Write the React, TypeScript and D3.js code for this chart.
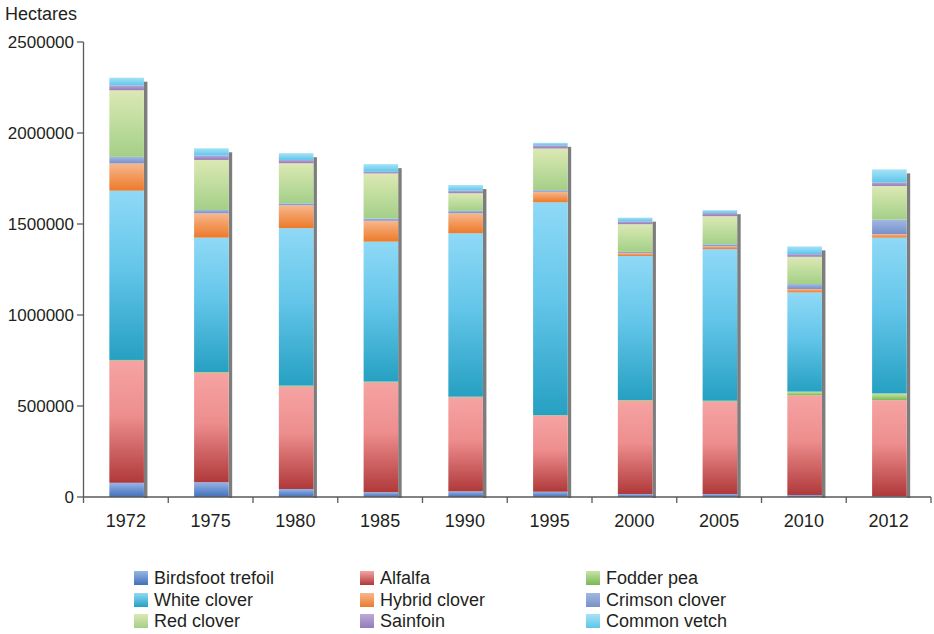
import React from 'react';
import * as d3 from 'd3';

const years = ['1972', '1975', '1980', '1985', '1990', '1995', '2000', '2005', '2010', '2012'];
const birdsfootTrefoil = [78000, 81000, 44000, 26000, 31000, 29000, 16000, 16000, 11000, 5000];
const alfalfa = [672000, 601000, 563000, 604000, 517000, 419000, 513000, 509000, 548000, 527000];
const fodderPea = [3000, 5000, 5000, 4000, 3000, 2000, 4000, 4000, 20000, 37000];
const whiteClover = [930000, 738000, 865000, 769000, 898000, 1169000, 791000, 833000, 545000, 856000];
const hybridClover = [150000, 134000, 126000, 115000, 110000, 58000, 16000, 16000, 19000, 19000];
const crimsonClover = [36000, 18000, 11000, 13000, 13000, 9000, 7000, 11000, 27000, 81000];
const redClover = [366000, 275000, 220000, 247000, 97000, 229000, 152000, 154000, 150000, 184000];
const sainfoin = [27000, 24000, 18000, 9000, 14000, 18000, 16000, 18000, 15000, 20000];
const commonVetch = [42000, 40000, 37000, 42000, 31000, 13000, 20000, 15000, 42000, 71000];

const seriesNames = [
  'Birdsfoot trefoil', 'Alfalfa', 'Fodder pea',
  'White clover', 'Hybrid clover', 'Crimson clover',
  'Red clover', 'Sainfoin', 'Common vetch',
];
const seriesValues = [
  birdsfootTrefoil, alfalfa, fodderPea,
  whiteClover, hybridClover, crimsonClover,
  redClover, sainfoin, commonVetch,
];
// gradient stops: [top, mid, bottom]
const seriesColors: string[][] = [
  ['#97b6e6', '#6f94d4', '#4470b8'],
  ['#f6a3a3', '#ee8e8e', '#b0393a'],
  ['#c9e3a6', '#a6d27f', '#78b856'],
  ['#8fd9f6', '#64c6ea', '#26a0c2'],
  ['#f6b890', '#f39b5e', '#ec7a2c'],
  ['#a2b8e2', '#8ea6d8', '#7890c8'],
  ['#dce8b4', '#c2dea0', '#a4cf88'],
  ['#bcaad8', '#a893c8', '#927cba'],
  ['#a6e2f6', '#86d6f2', '#5ec6ea'],
];
const yTicks = [0, 500000, 1000000, 1500000, 2000000, 2500000];

const W = 934;
const H = 634;
const FONT = '"Liberation Sans", Arial, Helvetica, sans-serif';

export default function App() {
  const table = years.map((yr, i) => {
    const row: Record<string, number | string> = { year: yr };
    seriesNames.forEach((n, s) => { row[n] = seriesValues[s][i]; });
    return row;
  });
  const stacked = d3.stack<any>().keys(seriesNames)(table as any);

  const x = d3.scaleBand<string>().domain(years).range([83.5, 931]).padding(0);
  const y = d3.scaleLinear().domain([0, 2500000]).range([497, 42]);
  const bw = x.bandwidth();
  const barW = bw * 0.408;
  const barOff = bw * 0.305;
  const totals = years.map((_, i) => seriesValues.reduce((a, s) => a + s[i], 0));

  const legendCols = [134, 360, 586];
  const legendRows = [578, 600, 621];

  return (
    <svg width={W} height={H} style={{ position: 'absolute', left: 0, top: 0, background: '#fff' }}
      fontFamily={FONT}>
      <defs>
        {seriesColors.map((c, i) => (
          <linearGradient key={i} id={`g${i}`} x1="0" y1="0" x2="0" y2="1">
            <stop offset="0" stopColor={c[0]} />
            <stop offset="0.45" stopColor={c[1]} />
            <stop offset="1" stopColor={c[2]} />
          </linearGradient>
        ))}
        {seriesColors.map((c, i) => (
          <linearGradient key={'h' + i} id={`lg${i}`} x1="0" y1="0" x2="0" y2="1">
            <stop offset="0" stopColor={c[0]} />
            <stop offset="1" stopColor={c[2]} />
          </linearGradient>
        ))}
      </defs>

      {/* shadows */}
      {years.map((yr, i) => (
        <rect key={'sh' + yr} x={x(yr)! + barOff + barW} y={y(totals[i]) + 4} width={3.5}
          height={y(0) - y(totals[i]) - 4 + 1} fill="#7d7d7d" />
      ))}

      {/* bars */}
      {stacked.map((layer, s) => (
        <g key={layer.key} fill={`url(#g${s})`}>
          {layer.map((d, i) => {
            const h = y(d[0]) - y(d[1]);
            if (h <= 0) return null;
            return (
              <rect key={i} x={x(years[i])! + barOff} y={y(d[1])} width={barW} height={h} />
            );
          })}
        </g>
      ))}

      {/* y axis */}
      <line x1={83.5} x2={83.5} y1={y(2500000)} y2={y(0)} stroke="#5a5a5a" strokeWidth={1.3} />
      {yTicks.map((t) => (
        <g key={t}>
          <line x1={77} x2={83.5} y1={y(t)} y2={y(t)} stroke="#5a5a5a" strokeWidth={1.3} />
          <text x={74} y={y(t)} dy="0.35em" textAnchor="end" fontSize={17} fill="#231f20">{t}</text>
        </g>
      ))}
      <text x={5} y={20} fontSize={18} fill="#231f20">Hectares</text>

      {/* x axis */}
      <line x1={83.5} x2={931} y1={y(0)} y2={y(0)} stroke="#5a5a5a" strokeWidth={1.3} />
      {[...years.map((yr) => x(yr)!), 931].map((px, i) => (
        <line key={'xt' + i} x1={px} x2={px} y1={y(0)} y2={y(0) + 6} stroke="#5a5a5a" strokeWidth={1.3} />
      ))}
      {years.map((yr) => (
        <text key={'xl' + yr} x={x(yr)! + bw / 2} y={527} textAnchor="middle" fontSize={18} fill="#231f20">{yr}</text>
      ))}

      {/* legend */}
      {seriesNames.map((n, i) => {
        const cx = legendCols[i % 3];
        const cy = legendRows[Math.floor(i / 3)];
        return (
          <g key={'lg' + n}>
            <rect x={cx} y={cy - 7} width={14} height={14} fill={`url(#lg${i})`} />
            <text x={cx + 20} y={cy} dy="0.35em" fontSize={18} fill="#231f20">{n}</text>
          </g>
        );
      })}
    </svg>
  );
}
